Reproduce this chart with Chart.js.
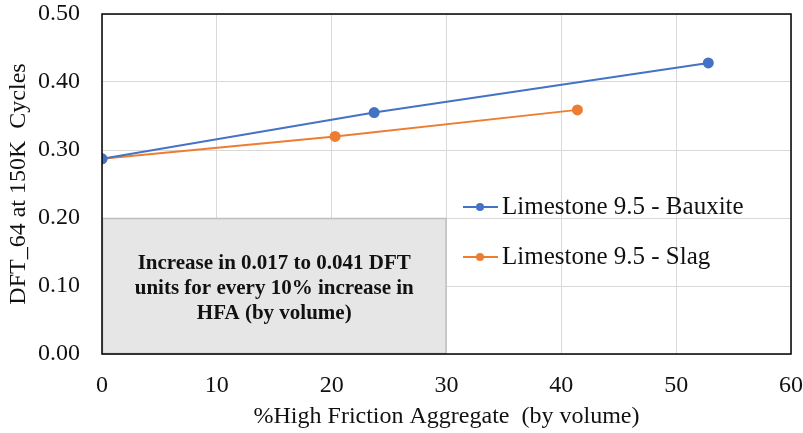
<!DOCTYPE html>
<html>
<head>
<meta charset="utf-8">
<script src="https://cdn.jsdelivr.net/npm/chart.js@4/dist/chart.umd.min.js"></script>
<style>
  html, body { margin: 0; padding: 0; background: #fff; }
  #wrap { width: 803px; height: 433px; }
</style>
</head>
<body>
<div id="wrap"><canvas id="dftChart"></canvas></div>
<script>
const bauxiteX = [0, 23.7, 52.8];
const bauxiteY = [0.287, 0.355, 0.428];
const slagX = [0, 20.3, 41.4];
const slagY = [0.287, 0.320, 0.359];
const seriesNames = ["Limestone 9.5 - Bauxite", "Limestone 9.5 - Slag"];
const seriesColors = ["#4472C4", "#ED7D31"];
const noteLines = ["Increase in 0.017 to 0.041 DFT", "units for every 10% increase in", "HFA (by volume)"];
const noteBox = { x0: 0, x1: 30, y0: 0, y1: 0.20 };

const serif = "'Liberation Serif', 'Times New Roman', serif";

const toPoints = (xs, ys) => xs.map((x, i) => ({ x: x, y: ys[i] }));

// keep tick labels from pushing the plot area around
const noOverhang = (scale) => {
    scale.paddingTop = 0;
    scale.paddingBottom = 0;
    scale.paddingLeft = 0;
    scale.paddingRight = 0;
};

// Gray note box, drawn under the lines
const notePlugin = {
    id: "noteBox",
    beforeDatasetsDraw(chart) {
        const { ctx, scales: { x, y } } = chart;
        const left = x.getPixelForValue(noteBox.x0);
        const right = x.getPixelForValue(noteBox.x1);
        const top = y.getPixelForValue(noteBox.y1);
        const bottom = y.getPixelForValue(noteBox.y0);
        ctx.save();
        ctx.fillStyle = "#e7e6e6";
        ctx.fillRect(left, top, right - left, bottom - top);
        ctx.strokeStyle = "#bfbfbf";
        ctx.lineWidth = 1.5;
        ctx.strokeRect(left + 0.5, top + 0.5, right - left - 1, bottom - top - 1);
        ctx.fillStyle = "#111";
        ctx.font = "bold 21px " + serif;
        ctx.textAlign = "center";
        ctx.textBaseline = "middle";
        const cx = (left + right) / 2;
        const cy = (top + bottom) / 2 + 3;
        noteLines.forEach((line, i) => {
            ctx.fillText(line, cx, cy + (i - 1) * 25);
        });
        ctx.restore();
    }
};

// Frame around plot area and legend inside it
const framePlugin = {
    id: "frameLegend",
    afterDraw(chart) {
        const { ctx, chartArea } = chart;
        ctx.save();
        ctx.strokeStyle = "#000";
        ctx.lineWidth = 1.5;
        ctx.strokeRect(chartArea.left, chartArea.top, chartArea.right - chartArea.left, chartArea.bottom - chartArea.top);

        ctx.font = "25px " + serif;
        ctx.textBaseline = "middle";
        ctx.textAlign = "left";
        seriesNames.forEach((name, i) => {
            const yPos = 207 + i * 50;
            ctx.strokeStyle = seriesColors[i];
            ctx.lineWidth = 2;
            ctx.beginPath();
            ctx.moveTo(463, yPos);
            ctx.lineTo(498, yPos);
            ctx.stroke();
            ctx.fillStyle = seriesColors[i];
            ctx.beginPath();
            ctx.arc(480, yPos, 4, 0, Math.PI * 2);
            ctx.fill();
            ctx.fillStyle = "#111";
            ctx.fillText(name, 502, yPos);
        });
        ctx.restore();
    }
};

const chartContext = document.getElementById("dftChart").getContext("2d");

new Chart(chartContext, {
    type: "scatter",
    data: {
        datasets: [
            {
                label: seriesNames[0],
                data: toPoints(bauxiteX, bauxiteY),
                showLine: true,
                borderColor: seriesColors[0],
                backgroundColor: seriesColors[0],
                borderWidth: 2,
                pointRadius: 4.5
            },
            {
                label: seriesNames[1],
                data: toPoints(slagX, slagY),
                showLine: true,
                borderColor: seriesColors[1],
                backgroundColor: seriesColors[1],
                borderWidth: 2,
                pointRadius: 4.5
            }
        ]
    },
    options: {
        responsive: true,
        maintainAspectRatio: false,
        animation: false,
        layout: { padding: { left: 0, right: 12, top: 14, bottom: 0 } },
        plugins: {
            legend: { display: false },
            tooltip: { enabled: false }
        },
        scales: {
            x: {
                type: "linear",
                min: 0,
                max: 60,
                ticks: {
                    stepSize: 10,
                    color: "#111",
                    padding: 17,
                    font: { family: serif, size: 24 }
                },
                grid: { color: "#d9d9d9", drawTicks: false },
                border: { display: false },
                title: {
                    display: true,
                    text: "%High Friction Aggregate  (by volume)",
                    color: "#111",
                    font: { family: serif, size: 24 },
                    padding: { top: 0, bottom: 2 }
                },
                afterFit: (scale) => { scale.height = 79; noOverhang(scale); }
            },
            y: {
                min: 0,
                max: 0.5,
                ticks: {
                    stepSize: 0.1,
                    color: "#111",
                    padding: 22,
                    font: { family: serif, size: 24 },
                    callback: (value) => value.toFixed(2)
                },
                grid: { color: "#d9d9d9", drawTicks: false },
                border: { display: false },
                title: {
                    display: true,
                    text: "DFT_64 at 150K  Cycles",
                    color: "#111",
                    font: { family: serif, size: 24 },
                    padding: { top: 4, bottom: 0 }
                },
                afterFit: (scale) => { scale.width = 102; noOverhang(scale); }
            }
        }
    },
    plugins: [notePlugin, framePlugin]
});
</script>
</body>
</html>
